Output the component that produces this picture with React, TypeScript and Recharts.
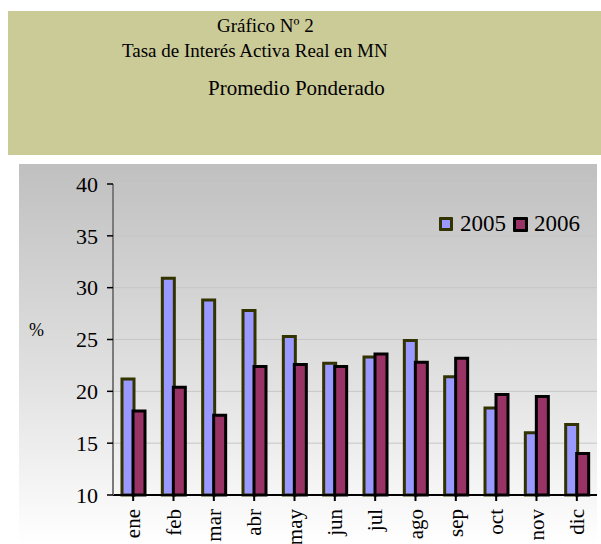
import React from 'react';
import { BarChart, Bar, XAxis, YAxis, CartesianGrid } from 'recharts';

const months = ['ene', 'feb', 'mar', 'abr', 'may', 'jun', 'jul', 'ago', 'sep', 'oct', 'nov', 'dic'];
const serie2005 = [21.2, 30.9, 28.8, 27.8, 25.3, 22.7, 23.3, 24.9, 21.4, 18.4, 16.0, 16.8];
const serie2006 = [18.1, 20.4, 17.7, 22.4, 22.6, 22.4, 23.6, 22.8, 23.2, 19.7, 19.5, 14.0];
const yTicks = [10, 15, 20, 25, 30, 35, 40];

const data = months.map((m, i) => ({ mes: m, a2005: serie2005[i], a2006: serie2006[i] }));

const FONT = 'Liberation Serif';

// etiqueta vertical del eje X
const MonthTick = (props: any) => {
  const { x, y, payload } = props;
  return (
    <text
      x={x}
      y={y}
      transform={`rotate(-90, ${x}, ${y})`}
      dx={-6}
      dy={7}
      textAnchor="end"
      fontFamily={FONT}
      fontSize={21}
      fill="#000"
    >
      {payload.value}
    </text>
  );
};

export default function App() {
  return (
    <div style={{ position: 'absolute', left: 0, top: 0, width: 601, height: 544, background: '#fff', overflow: 'hidden', fontFamily: FONT }}>
      <div
        style={{
          position: 'absolute',
          left: 8,
          top: 11,
          width: 593,
          height: 144,
          background: '#cbcb98',
          fontSize: 19,
          color: '#000',
          lineHeight: '22px',
        }}
      >
        <span style={{ position: 'absolute', left: 209, top: 4 }}>Gráfico Nº 2</span>
        <span style={{ position: 'absolute', left: 114, top: 29 }}>Tasa de Interés Activa Real en MN</span>
        <span style={{ position: 'absolute', left: 200, top: 66, fontSize: 21 }}>Promedio Ponderado</span>
      </div>

      <div
        style={{
          position: 'absolute',
          left: 19,
          top: 164,
          width: 578,
          height: 380,
          background: 'linear-gradient(to bottom, #c0c0c0 0%, #e0e0e0 55%, #ffffff 100%)',
        }}
      />
      <div style={{ position: 'absolute', left: 29, top: 320, fontSize: 18 }}>%</div>

      <div style={{ position: 'absolute', left: 0, top: 164 }}>
        <BarChart
          width={601}
          height={380}
          data={data}
          margin={{ top: 20, right: 4, left: 53, bottom: 0 }}
          barSize={12}
          barGap={-1}
        >
          <CartesianGrid vertical={false} stroke="#c6c6c6" strokeWidth={1} />
          <XAxis
            dataKey="mes"
            height={49}
            interval={0}
            tick={<MonthTick />}
            axisLine={{ stroke: '#000', strokeWidth: 2 }}
            tickLine={{ stroke: '#000', strokeWidth: 2 }}
            tickSize={6}
          />
          <YAxis
            width={60}
            domain={[10, 40]}
            ticks={yTicks}
            interval={0}
            axisLine={{ stroke: '#7a7a7a', strokeWidth: 2 }}
            tickLine={{ stroke: '#000', strokeWidth: 1.5 }}
            tickSize={6}
            tickMargin={9}
            tick={{ fontFamily: FONT, fontSize: 22, fill: '#000' }}
          />
          <Bar dataKey="a2005" fill="#9999ff" stroke="#333300" strokeWidth={3} isAnimationActive={false} />
          <Bar dataKey="a2006" fill="#993366" stroke="#000000" strokeWidth={3} isAnimationActive={false} />
        </BarChart>
      </div>

      {/* leyenda */}
      <div style={{ position: 'absolute', left: 439, top: 211, display: 'flex', alignItems: 'center', fontSize: 23, color: '#000' }}>
        <span style={{ width: 8, height: 8, background: '#9999ff', border: '3px solid #333300', borderRadius: 1, marginRight: 7 }} />
        <span style={{ marginRight: 7 }}>2005</span>
        <span style={{ width: 9, height: 9, background: '#993366', border: '3px solid #000', borderRadius: 1, marginRight: 6 }} />
        <span>2006</span>
      </div>
    </div>
  );
}
